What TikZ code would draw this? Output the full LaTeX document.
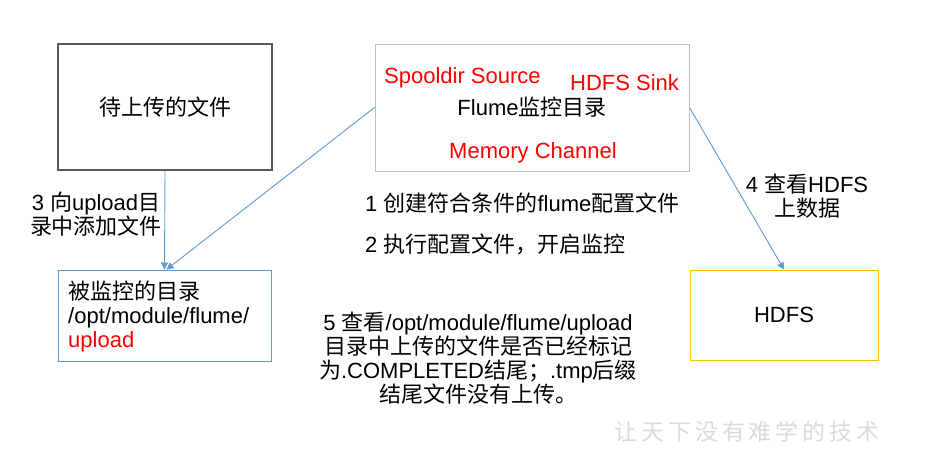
\documentclass[tikz,border=0pt]{standalone}
\usepackage{fontspec}
\setmainfont{Liberation Sans}
\newfontfamily\cjk{Noto Sans CJK SC}
\usetikzlibrary{arrows.meta}
\newcommand{\zh}[1]{{\cjk #1}}
\definecolor{lineblue}{HTML}{5B9BD5}
\definecolor{gold}{HTML}{FFC000}
\definecolor{boxgray}{HTML}{BFBFBF}
\definecolor{darkgray}{HTML}{595959}
\tikzset{
  txt/.style={inner sep=0pt, font=\fontsize{22}{24}\selectfont},
  redtxt/.style={txt, text=red},
  box/.style={draw, inner sep=0pt, font=\fontsize{22}{24}\selectfont},
  conn/.style={draw=lineblue, line width=0.9pt, -{Triangle[width=7pt,length=7pt]}}
}
\begin{document}
\begin{tikzpicture}[x=1pt,y=-1pt]
\useasboundingbox (0,0) rectangle (932,448);
% boxes
\node[box, draw=darkgray, line width=1.4pt, minimum width=214pt, minimum height=126pt] (A) at (165,107) {\zh{待上传的文件}};
\node[box, draw=boxgray, line width=1pt, minimum width=314pt, minimum height=127pt] (B) at (532,107.5) {Flume\zh{监控目录}};
\node[box, draw=lineblue, line width=1pt, minimum width=213pt, minimum height=91pt] (C) at (164.5,315.5) {};
\node[box, draw=gold, line width=1pt, minimum width=188pt, minimum height=90pt] (D) at (784,315) {HDFS};
% labels in Flume box
\node[redtxt, anchor=west] (src) at (384,78) {Spooldir Source};
\node[redtxt, anchor=west] (sink) at (570,83) {HDFS Sink};
\node[redtxt] (chan) at (533,153) {Memory Channel};
% text in box C
\node[txt, anchor=west, align=left] (ctext) at (68,316) {\zh{被监控的目录}\\/opt/module/flume/\\\textcolor{red}{upload}};
% connectors
\draw[conn] (A.south) -- (C.north);
\draw[conn] (B.west) -- ([xshift=2pt]C.north);
\draw[conn] (B.east) -- (D.north);
% free texts
\node[txt, align=center] (t3) at (96,214) {3 \zh{向}upload\zh{目}\\\zh{录中添加文件}};
\node[txt, align=center] (t4) at (807,196) {4 \zh{查看}HDFS\\\zh{上数据}};
\node[txt, anchor=west] (t1) at (365,203) {1 \zh{创建符合条件的}flume\zh{配置文件}};
\node[txt, anchor=west] (t2) at (365,244) {2 \zh{执行配置文件，开启监控}};
\node[txt, align=center] (t5) at (478,358) {5 \zh{查看}/opt/module/flume/upload\\\zh{目录中上传的文件是否已经标记}\\\zh{为}.COMPLETED\zh{结尾；}.tmp\zh{后缀}\\\zh{结尾文件没有上传。}};
% watermark
\node[inner sep=0pt, text=black!14, font=\fontsize{23}{24}\selectfont] (wm) at (747,432) {\zh{让\,天\,下\,没\,有\,难\,学\,的\,技\,术}};
\end{tikzpicture}
\end{document}
